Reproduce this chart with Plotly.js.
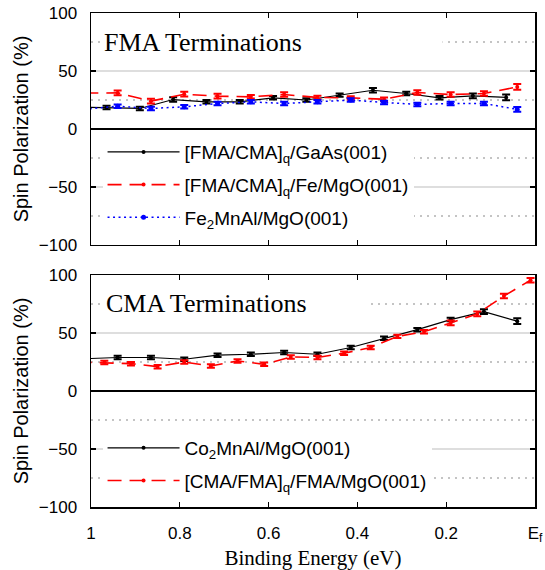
<!DOCTYPE html>
<html>
<head>
<meta charset="utf-8">
<script src="https://cdn.plot.ly/plotly-3.0.1.min.js"></script>
<style>html,body{margin:0;padding:0;background:#fff;}#chart{width:545px;height:570px;}</style>
</head>
<body>
<div id="chart"></div>
<script>
// ---- Top panel: FMA terminations ----
const energyGaAs = [1.04, 0.965, 0.89, 0.815, 0.74, 0.665, 0.59, 0.515, 0.44, 0.365, 0.29, 0.215, 0.14, 0.065];
const polGaAs    = [19, 18.6, 17.7, 25.4, 23.4, 23.4, 26.9, 25.0, 29.2, 33.4, 30.6, 26.9, 28.6, 27.2];
const errGaAs    = [2, 1.5, 1.5, 2, 1.5, 1.5, 1.5, 1.5, 1.5, 2, 1.5, 1.5, 2, 2.5];

const energyFeMgO = [1.015, 0.94, 0.865, 0.79, 0.715, 0.64, 0.565, 0.49, 0.415, 0.34, 0.265, 0.19, 0.115, 0.04];
const polFeMgO    = [31, 31.1, 24.0, 30.0, 28.3, 27.7, 29.7, 27.2, 26.8, 25.7, 31.5, 29.7, 30.6, 36.3];
const errFeMgO    = [2, 2, 2, 2, 2, 1.5, 2, 1.5, 1.5, 1.5, 2, 2, 2, 2.5];

const energyFMA = [1.015, 0.94, 0.865, 0.79, 0.715, 0.64, 0.565, 0.49, 0.415, 0.34, 0.265, 0.19, 0.115, 0.04];
const polFMA    = [17, 19.7, 17.7, 19.1, 22.0, 23.4, 22.0, 23.4, 24.9, 22.9, 21.2, 22.0, 22.0, 16.9];
const errFMA    = [1.5, 1.5, 1.5, 1.5, 1.5, 1.5, 1.5, 1.5, 1.5, 1.5, 1.5, 1.5, 1.5, 2];

// ---- Bottom panel: CMA terminations ----
const energyCMA = [1.015, 0.94, 0.865, 0.79, 0.715, 0.64, 0.565, 0.49, 0.415, 0.34, 0.265, 0.19, 0.115, 0.04];
const polCMA    = [27.8, 28.9, 28.9, 27.4, 30.9, 31.7, 33.2, 31.7, 37.5, 45.4, 52.9, 61.6, 68.5, 60.2];
const errCMA    = [1.5, 1.5, 1.5, 1.5, 1.5, 1.5, 1.5, 1.5, 1.5, 1.5, 1.5, 1.5, 2, 2.5];

const energyCMAFMA = [1.03, 0.97, 0.91, 0.85, 0.79, 0.73, 0.67, 0.61, 0.55, 0.49, 0.43, 0.37, 0.31, 0.25, 0.19, 0.13, 0.07, 0.01];
const polCMAFMA    = [25, 24.5, 23.6, 21.0, 25.0, 21.6, 25.9, 23.0, 29.4, 28.9, 32.6, 37.5, 47.1, 51.1, 58.7, 66.5, 81.9, 95.5];
const errCMAFMA    = [1.5, 1.5, 1.5, 1.5, 1.5, 1.5, 1.5, 1.5, 1.5, 1.5, 1.5, 1.5, 1.5, 1.5, 2, 2, 2, 2];

// ---- Labels ----
const xTickVals = [1, 0.8, 0.6, 0.4, 0.2, 0];
const xTickText = ['1', '0.8', '0.6', '0.4', '0.2', 'E<sub>f</sub>'];
const yTickVals = [-100, -50, 0, 50, 100];
const yMinorVals = [-75, -25, 25, 75];
const names = {
  gaas: '[FMA/CMA]<sub>q</sub>/GaAs(001)',
  femgo: '[FMA/CMA]<sub>q</sub>/Fe/MgO(001)',
  fma: 'Fe<sub>2</sub>MnAl/MgO(001)',
  cma: 'Co<sub>2</sub>MnAl/MgO(001)',
  cmafma: '[CMA/FMA]<sub>q</sub>/FMA/MgO(001)'
};
const titles = {top: 'FMA Terminations', bottom: 'CMA Terminations', x: 'Binding Energy (eV)', y: 'Spin Polarization (%)'};

const SANS = 'Liberation Sans, Arial, sans-serif';
const SERIF = 'Liberation Serif, Times New Roman, serif';

function tr(x, y, err, name, color, dash, width, msize, xa, ya, leg, grp) {
  return {
    x: x, y: y, name: name, type: 'scatter', mode: 'lines+markers',
    xaxis: xa, yaxis: ya, legend: leg, legendgroup: grp,
    line: {color: color, dash: dash, width: width},
    marker: {color: color, size: msize, symbol: 'circle'},
    error_y: {type: 'data', array: err, visible: true, color: color, thickness: 2, width: 4}
  };
}

const data = [
  tr(energyGaAs, polGaAs, errGaAs, names.gaas, '#000000', 'solid', 1.2, 4, 'x', 'y', 'legend', 'a'),
  tr(energyFeMgO, polFeMgO, errFeMgO, names.femgo, '#ff0000', '14px,8px', 1.6, 4, 'x', 'y', 'legend', 'b'),
  tr(energyFMA, polFMA, errFMA, names.fma, '#0000ff', '2px,3.5px', 1.5, 5, 'x', 'y', 'legend', 'c'),
  tr(energyCMA, polCMA, errCMA, names.cma, '#000000', 'solid', 1.2, 4, 'x2', 'y2', 'legend2', 'd'),
  tr(energyCMAFMA, polCMAFMA, errCMAFMA, names.cmafma, '#ff0000', '14px,8px', 1.6, 4, 'x2', 'y2', 'legend2', 'e')
];

function xaxis(labels, anchor) {
  return {
    anchor: anchor, range: [1, 0], tickvals: xTickVals, ticktext: xTickText,
    showticklabels: labels, ticks: 'inside', ticklen: 5, tickwidth: 1.2, tickcolor: '#000',
    showline: true, linecolor: '#000', linewidth: 1.5, mirror: 'ticks',
    showgrid: false, zeroline: false, ticklabelstandoff: 10,
    tickfont: {family: SANS, size: 17, color: '#000'}
  };
}
function yaxis(domain, anchor) {
  return {
    anchor: anchor, domain: domain, range: [-100, 100], tickvals: yTickVals,
    ticks: 'inside', ticklen: 5, tickwidth: 1.2, tickcolor: '#000',
    showline: true, linecolor: '#000', linewidth: 1.5, mirror: 'ticks',
    showgrid: true, gridcolor: '#dedede', gridwidth: 1.5,
    minor: {tickvals: yMinorVals, showgrid: true, gridcolor: '#c4c4c4', griddash: '2px,5px', gridwidth: 1.2, ticks: ''},
    zeroline: true, zerolinecolor: '#000', zerolinewidth: 1.5,
    ticklabelstandoff: 9,
    tickfont: {family: SANS, size: 17, color: '#000'},
    title: {text: titles.y, font: {family: SANS, size: 20, color: '#000'}, standoff: 5}
  };
}

const legendBase = {
  bgcolor: '#ffffff', borderwidth: 0, xanchor: 'left', yanchor: 'top',
  font: {family: SANS, size: 19, color: '#000'}, itemwidth: 72, tracegroupgap: 5,
  itemclick: false, itemdoubleclick: false
};

const layout = {
  width: 545, height: 570,
  margin: {l: 91, r: 10, t: 13, b: 63},
  paper_bgcolor: '#fff', plot_bgcolor: '#fff',
  showlegend: true,
  xaxis: xaxis(false, 'y'),
  xaxis2: Object.assign(xaxis(true, 'y2'), {title: {text: titles.x, font: {family: SERIF, size: 21, color: '#000'}, standoff: 10}}),
  yaxis: yaxis([0.5304, 1], 'x'),
  yaxis2: yaxis([0, 0.4696], 'x2'),
  legend: Object.assign({}, legendBase, {x: 0.026, y: 0.757}),
  legend2: Object.assign({}, legendBase, {x: 0.026, y: 0.158}),
  annotations: [
    {text: titles.top, xref: 'x domain', yref: 'y domain', x: 0.022, y: 0.871, xanchor: 'left', yanchor: 'middle',
     showarrow: false, align: 'left', width: 336, bgcolor: '#fff', borderpad: 2,
     font: {family: SERIF, size: 26, color: '#000'}},
    {text: titles.bottom, xref: 'x2 domain', yref: 'y2 domain', x: 0.027, y: 0.878, xanchor: 'left', yanchor: 'middle',
     showarrow: false, align: 'left', width: 258, bgcolor: '#fff', borderpad: 2,
     font: {family: SERIF, size: 26, color: '#000'}}
  ]
};

Plotly.newPlot('chart', data, layout, {staticPlot: true, displayModeBar: false});
</script>
</body>
</html>
